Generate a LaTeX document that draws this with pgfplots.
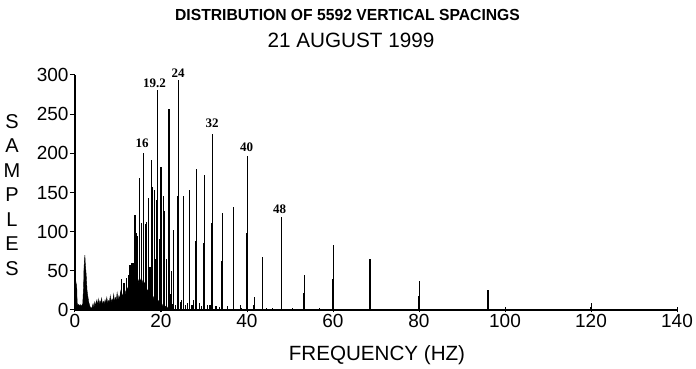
\documentclass[border=0pt]{standalone}
\usepackage{pgfplots}
\pgfplotsset{compat=1.18}
\usepackage{fontspec}
\setmainfont{Liberation Sans}
\newfontfamily\serifb{Liberation Serif}
\begin{document}
\begin{tikzpicture}
\begin{axis}[
  at={(0pt,0pt)}, anchor=south west,
  scale only axis, width=602pt, height=235pt,
  xmin=0, xmax=140, ymin=0, ymax=300,
  axis lines*=left,
  axis line style={line width=1.2pt},
  xtick={0,20,...,140}, ytick={0,50,...,300},
  xtick align=center, ytick align=outside,
  major tick length=5pt,
  tick style={line width=1pt, black},
  /pgf/number format/assume math mode=true,
  ticklabel style={font=\fontsize{19}{19}\selectfont},
  xticklabel style={yshift=2pt},
  yticklabel style={xshift=2pt},
  clip=false,
]
% dense low-frequency background
\addplot[fill=black, draw=black, line width=0.4pt, sharp plot] coordinates {
(0,0)(0.1,20)(0.2,36)(0.3,33)(0.4,30)(0.5,10)(0.6,6)(0.8,7)(1.0,5)(1.2,7)(1.4,5)(1.6,6)(1.8,8)
(2.0,30)(2.1,55)(2.3,70)(2.4,59)(2.6,45)(2.8,25)(3.0,17)(3.2,10)(3.4,6)(3.6,3)(3.8,2)
(4.0,4)(4.2,8)(4.4,3)(4.6,10)(4.8,5)(5.0,12)(5.2,6)(5.4,14)(5.6,7)(5.8,12)
(6.0,8)(6.2,15)(6.4,6)(6.6,11)(6.8,7)(7.0,13)(7.2,9)(7.4,16)(7.6,8)(7.8,12)
(8.0,10)(8.2,18)(8.4,9)(8.6,14)(8.8,11)(9.0,20)(9.2,10)(9.4,16)(9.6,12)(9.8,22)
(10.0,12)(10.2,18)(10.4,14)(10.6,24)(10.8,15)(11.0,20)(11.2,16)(11.4,26)(11.6,18)(11.8,24)
(12.0,20)(12.2,28)(12.4,22)(12.6,30)(12.8,24)(13.0,32)(13.2,26)(13.4,34)(13.6,28)(13.8,36)
(14.0,30)(14.2,38)(14.4,32)(14.6,40)(14.8,34)(15.0,42)(15.2,36)(15.4,40)(15.6,34)(15.8,38)
(16.0,32)(16.2,35)(16.4,28)(16.6,30)(16.8,24)(17.0,26)(17.2,20)(17.4,22)(17.6,18)(17.8,20)
(18.0,15)(18.2,17)(18.4,13)(18.6,15)(18.8,11)(19.0,13)(19.2,10)(19.4,12)(19.6,8)(19.8,10)
(20.0,7)(20.2,8)(20.4,5)(20.6,6)(20.8,4)(21.0,5)(21.2,3)(21.4,4)(21.6,2)(21.8,3)
(22.0,1)(22.4,2)(22.8,0)(23.2,1)(23.6,0)
};
% spikes
\addplot[ycomb, black, line width=1.1pt, mark=none] coordinates {
(10.8,40)(11.4,35)(11.9,41)(12.4,45)(12.8,57)(13.25,60)(13.7,60)(13.95,121)(14.2,98)(14.6,94)
(14.96,168)(15.5,111)(15.9,201)(16.4,110)(16.7,112)(17.15,143)(17.45,55)(17.75,191)(18.1,157)
(18.5,153)(18.75,65)(19.0,140)(19.2,281)(19.6,90)(20.0,182)(20.5,145)(20.9,127)(21.3,65)
(21.7,127)(21.85,256)(22.2,20)(22.4,50)(22.6,8)(22.9,102)(23.3,6)(23.8,145)(24.0,293)
(24.5,10)(24.8,13)(25.15,72)(25.3,146)(25.8,6)(26.1,9)(26.55,77)(26.7,153)(27.2,7)(27.5,13)
(28.1,88)(28.25,180)(28.9,9)(29.4,5)(29.9,86)(30.05,172)(30.9,7)(31.4,6)(31.85,111)(32.0,225)
(32.8,5)(33.6,4)(34.15,62)(34.3,124)(35.5,5)(36.8,64)(36.95,131)(38.4,6)(38.7,3)
(39.85,98)(40.05,196)(41.6,7)(41.7,16)(43.5,33)(43.7,68)(44.5,3)(46,2)(48.0,119)(50.6,3)
(53.2,22)(53.35,45)(56.8,3)(59.9,40)(60.05,83)(68.45,33)(68.6,65)(79.9,18)(80.05,37)
(95.9,12)(96.05,26)(119.9,4)(120.05,9)
};
\begin{scope}[every node/.style={font=\serifb\bfseries\fontsize{13}{13}\selectfont}]
\node at (axis cs:15.6,213) {16};
\node at (axis cs:18.5,290) {19.2};
\node at (axis cs:24,302) {24};
\node at (axis cs:31.9,238) {32};
\node at (axis cs:39.9,208) {40};
\node at (axis cs:47.6,129) {48};
\end{scope}
\end{axis}
\node[font=\bfseries\fontsize{16}{16}\selectfont, inner sep=0pt, xscale=0.98] at (272.5pt,295pt) {DISTRIBUTION OF 5592 VERTICAL SPACINGS};
\node[font=\fontsize{20.7}{21}\selectfont, inner sep=0pt] at (276pt,270pt) {21 AUGUST 1999};
\node[font=\fontsize{20.6}{21}\selectfont, inner sep=0pt] at (302pt,-45pt) {FREQUENCY (HZ)};
\node[font=\fontsize{20}{24.5}\selectfont, inner sep=0pt, align=center] at (-63pt,115pt) {S\\A\\M\\P\\L\\E\\S};
\pgfresetboundingbox
\path[use as bounding box] (-75pt,-59pt) rectangle (621pt,310pt);
\end{tikzpicture}
\end{document}
